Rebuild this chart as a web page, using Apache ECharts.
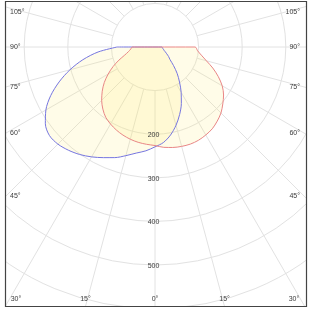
<!DOCTYPE html>
<html><head><meta charset="utf-8">
<script src="https://cdn.jsdelivr.net/npm/echarts@6/dist/echarts.min.js"></script>
<style>html,body{margin:0;padding:0;background:#fff}#c{width:310px;height:310px}</style>
</head><body><div id="c"></div>
<script>
// gamma angles (deg from nadir) at which intensities are read
const gammaSteps = [0,5,10,15,20,25,30,35,40,45,50,55,60,65,70,75,80,85,90];
// blue plane: left half and right half (cd/klm)
const blueLeft  = [229,239,247,258,270,280,291,301,309,315,316,307,289,264,234,202,168,131,87];
const blueRight = [229,220,205,186,165,143,120,98,79,60,45,38,31,26,22,20,18,17,16];
// red plane: left half and right half
const redLeft   = [226,224,222,219,215,210,204,197,186,173,158,142,124,106,88,72,62,56,53];
const redRight  = [226,231,234,236,237,236,233,229,222,214,203,192,178,160,141,122,108,98,92];
// axis labels
const ringLabels = [200,300,400,500];
const sideAngleLabels = [45,60,75,90,105];
const bottomAngleLabels = [0,15,30];

const CX = 155, CY = 47, R = 305.2, RMAX = 700;
const FRAME = {l:5.5, t:1.5, r:306.5, b:306.5};

function outline(left, right){
  const pts = [];
  for (let i = gammaSteps.length - 1; i >= 0; i--) pts.push([left[i], gammaSteps[i]]);
  for (let i = 1; i < gammaSteps.length; i++) pts.push([right[i], 360 - gammaSteps[i]]);
  pts.push([0, 270]);
  pts.push([left[left.length - 1], 90]);
  return pts;
}

const chart = echarts.init(document.getElementById('c'), null, {renderer:'canvas'});
const gridColor = '#e2e2e2';
const fill = 'rgba(255,238,105,0.22)';

const option = {
  animation: false,
  backgroundColor: '#fff',
  polar: [
    {center:[CX, CY], radius:[R * 100 / RMAX, R]},
    {center:[CX, CY], radius:[0, R]}
  ],
  angleAxis: [
    {polarIndex:0, type:'value', min:0, max:360, interval:15, startAngle:270, clockwise:true,
     axisLine:{show:false}, axisTick:{show:false}, axisLabel:{show:false},
     splitLine:{show:true, lineStyle:{color:gridColor, width:1}}},
    {polarIndex:1, type:'value', min:0, max:360, interval:15, startAngle:270, clockwise:true,
     axisLine:{show:false}, axisTick:{show:false}, axisLabel:{show:false}, splitLine:{show:false}}
  ],
  radiusAxis: [
    {polarIndex:0, type:'value', min:100, max:RMAX, interval:100,
     axisLine:{show:false}, axisTick:{show:false}, axisLabel:{show:false}, splitLine:{show:false}},
    {polarIndex:1, type:'value', min:0, max:RMAX, interval:100,
     axisLine:{show:false}, axisTick:{show:false}, axisLabel:{show:false},
     splitLine:{show:true, lineStyle:{color:gridColor, width:1}}}
  ],
  series: [
    {type:'line', coordinateSystem:'polar', polarIndex:1, data:outline(blueLeft, blueRight),
     symbol:'none', smooth:0.3, lineStyle:{color:'#7676e0', width:1}, areaStyle:{color:fill}},
    {type:'line', coordinateSystem:'polar', polarIndex:1, data:outline(redLeft, redRight),
     symbol:'none', smooth:0.3, lineStyle:{color:'#e98686', width:1}, areaStyle:{color:fill}}
  ]
};
chart.setOption(option);

const txt = (text, x, y, align) => ({type:'text', x:x, y:y, z:120,
  style:{text:text, fill:'#3a3a3a', fontSize:7, fontFamily:'Liberation Sans, Arial, sans-serif', align:align, verticalAlign:'middle'}});

const graphics = [];
// masks outside frame
graphics.push({type:'rect', z:100, shape:{x:0,y:0,width:310,height:FRAME.t}, style:{fill:'#fff'}});
graphics.push({type:'rect', z:100, shape:{x:0,y:0,width:FRAME.l,height:310}, style:{fill:'#fff'}});
graphics.push({type:'rect', z:100, shape:{x:FRAME.r,y:0,width:310-FRAME.r,height:310}, style:{fill:'#fff'}});
graphics.push({type:'rect', z:100, shape:{x:0,y:FRAME.b,width:310,height:310-FRAME.b}, style:{fill:'#fff'}});
graphics.push({type:'rect', z:110, shape:{x:FRAME.l,y:FRAME.t,width:FRAME.r-FRAME.l,height:FRAME.b-FRAME.t},
  style:{fill:'none', stroke:'#444', lineWidth:1.2}});

// radius labels along nadir
ringLabels.forEach(v => {
  const p = chart.convertToPixel({seriesIndex:0}, [v, 0]);
  graphics.push(txt(String(v), p[0] - 1.5, p[1] + 1, 'center'));
});
// side angle labels at spoke/frame intersection
sideAngleLabels.forEach(g => {
  const dx = CX - FRAME.l;
  let y = CY + dx * Math.cos(g * Math.PI / 180) / Math.sin(g * Math.PI / 180);
  y = Math.max(y, 12);
  graphics.push(txt(g + '°', 10, y, 'left'));
  graphics.push(txt(g + '°', 300, y, 'right'));
});
bottomAngleLabels.forEach(g => {
  const dy = FRAME.b - CY;
  const dx = dy * Math.tan(g * Math.PI / 180);
  const xl = Math.max(CX - dx, 16), xr = Math.min(CX + dx, 294);
  graphics.push(txt(g + '°', xl, 299, 'center'));
  if (g !== 0) graphics.push(txt(g + '°', xr, 299, 'center'));
});
chart.setOption({graphic: graphics});
</script></body></html>
